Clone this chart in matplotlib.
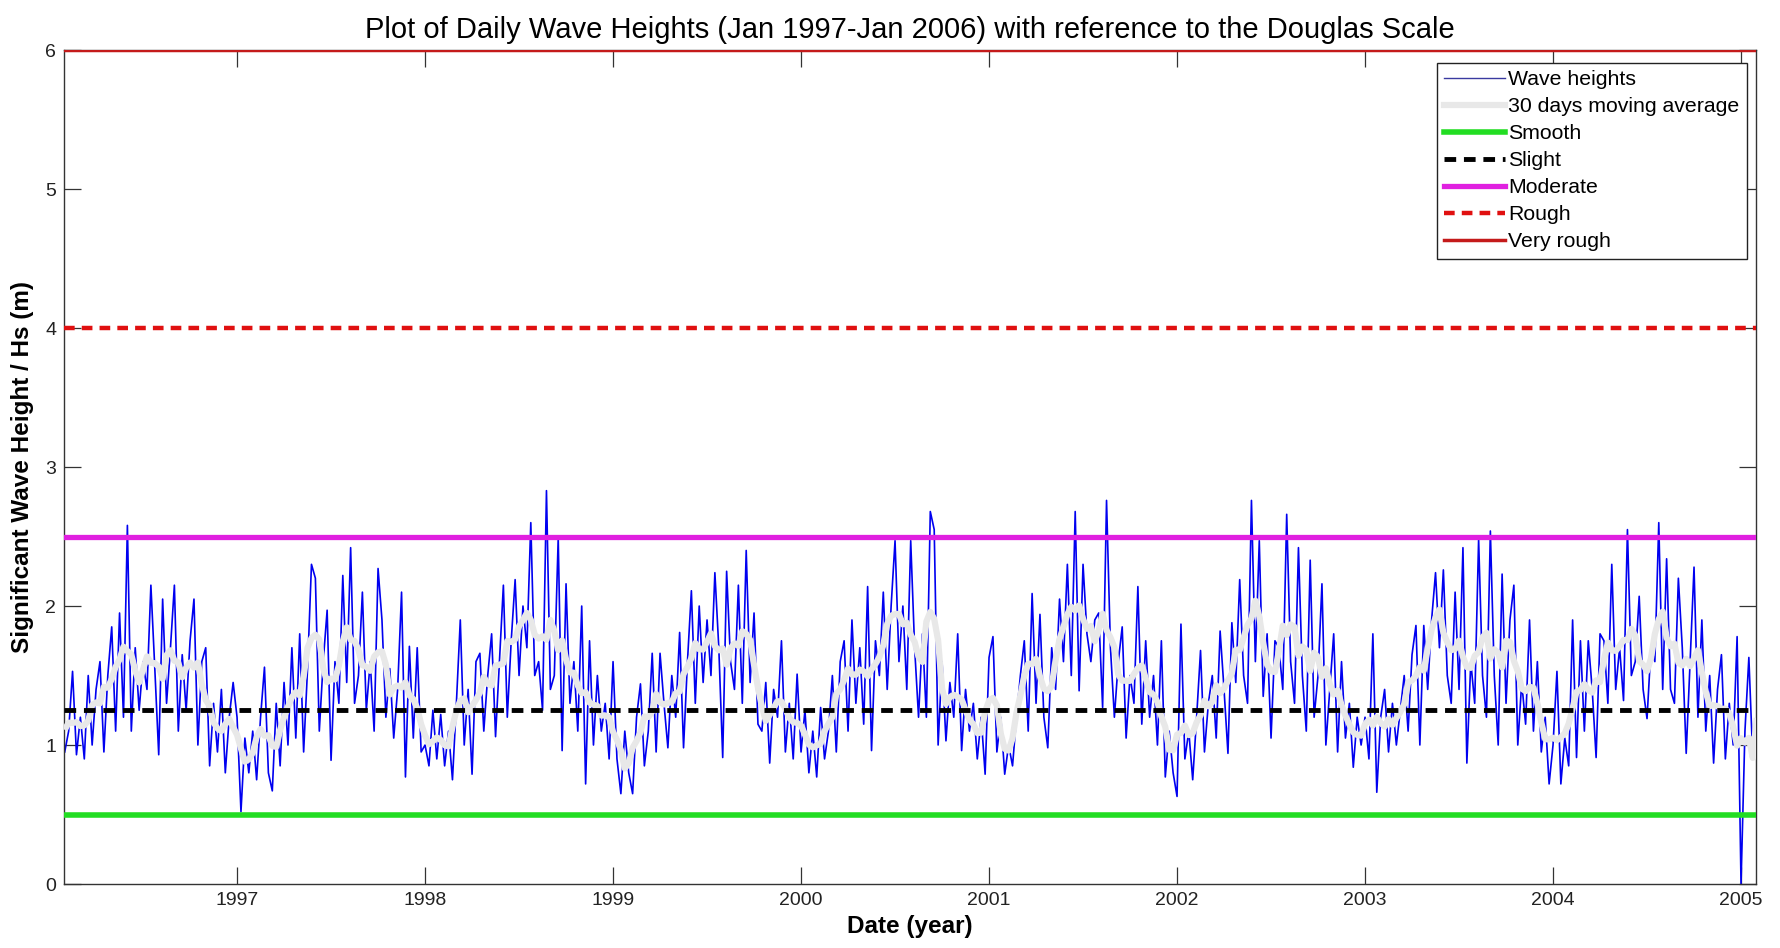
import numpy as np
import pandas as pd
import matplotlib
matplotlib.use("Agg")
import matplotlib.pyplot as plt
from matplotlib.lines import Line2D

plt.rcParams['font.family'] = ['Liberation Sans', 'DejaVu Sans']

# Daily significant wave heights (m), sampled weekly-ish (48 per year)
hs_1996 = [0.95, 1.1, 1.53, 0.93, 1.2, 0.9, 1.5, 1.0, 1.4, 1.6, 0.95, 1.5, 1.85, 1.1, 1.95, 1.2,
           2.58, 1.1, 1.7, 1.25, 1.6, 1.4, 2.15, 1.55, 0.93, 2.05, 1.3, 1.7, 2.15, 1.1, 1.65, 1.25,
           1.75, 2.05, 1.0, 1.6, 1.7, 0.85, 1.3, 0.95, 1.4, 0.8, 1.2, 1.45]
hs_1997 = [1.2, 0.52, 1.05, 0.8, 1.1, 0.75, 1.2, 1.56, 0.8, 0.67, 1.3, 0.85, 1.45, 1.0, 1.7, 1.05,
           1.8, 0.95, 1.55, 2.3, 2.2, 1.1, 1.6, 1.97, 0.89, 1.6, 1.3, 2.22, 1.45, 2.42, 1.3, 1.5,
           2.1, 1.25, 1.6, 1.1, 2.27, 1.9, 1.2, 1.55, 1.05, 1.4, 2.1, 0.77, 1.71, 1.05, 1.7, 0.95]
hs_1998 = [1.0, 0.85, 1.25, 0.9, 1.22, 0.85, 1.1, 0.75, 1.3, 1.9, 1.0, 1.4, 0.79, 1.6, 1.66, 1.1,
           1.5, 1.8, 1.06, 1.6, 2.15, 1.2, 1.75, 2.19, 1.5, 2.0, 1.7, 2.6, 1.5, 1.6, 1.25, 2.83,
           1.4, 1.5, 2.49, 0.96, 2.16, 1.3, 1.6, 1.1, 2.0, 0.72, 1.75, 1.0, 1.5, 1.1, 1.3, 0.9]
hs_1999 = [1.6, 0.9, 0.65, 1.1, 0.8, 0.65, 1.2, 1.44, 0.85, 1.1, 1.66, 0.95, 1.66, 1.3, 0.98, 1.5,
           1.2, 1.81, 0.98, 1.6, 2.11, 1.3, 2.0, 1.45, 1.9, 1.5, 2.24, 1.7, 0.91, 2.25, 1.6, 1.4,
           2.15, 1.3, 2.4, 1.45, 1.95, 1.15, 1.1, 1.45, 0.87, 1.4, 1.2, 1.75, 0.95, 1.3, 0.9, 1.51]
hs_2000 = [0.95, 1.25, 0.8, 1.1, 0.77, 1.27, 0.9, 1.1, 1.5, 0.95, 1.6, 1.75, 1.1, 1.9, 1.3, 1.7,
           1.15, 2.14, 0.96, 1.75, 1.5, 2.1, 1.4, 2.0, 2.47, 1.6, 2.0, 1.4, 2.47, 1.7, 1.2, 1.8,
           1.2, 2.68, 2.55, 1.0, 1.6, 1.03, 1.45, 1.2, 1.8, 0.96, 1.4, 1.1, 1.3, 0.9, 1.2, 0.79]
hs_2001 = [1.63, 1.78, 0.95, 1.2, 0.79, 1.0, 0.85, 1.2, 1.5, 1.75, 1.1, 2.09, 1.3, 1.94, 1.2, 0.98,
           1.7, 1.4, 2.05, 1.6, 2.3, 1.5, 2.68, 1.39, 2.3, 1.8, 1.6, 1.9, 1.95, 1.27, 2.76, 1.7,
           1.2, 1.6, 1.85, 1.05, 1.5, 1.3, 2.14, 1.15, 1.75, 1.2, 1.5, 1.0, 1.75, 0.77, 1.1, 0.8]
hs_2002 = [0.63, 1.87, 0.9, 1.1, 0.75, 1.2, 1.68, 0.95, 1.3, 1.5, 1.05, 1.82, 1.4, 0.94, 1.88, 1.45,
           2.19, 1.5, 1.3, 2.76, 1.6, 2.47, 1.35, 1.8, 1.05, 1.75, 1.7, 1.4, 2.66, 1.6, 1.3, 2.42,
           1.5, 1.1, 2.33, 1.2, 1.5, 2.16, 1.0, 1.4, 1.8, 0.95, 1.6, 1.05, 1.3, 0.84, 1.2, 1.0]
hs_2003 = [1.2, 0.9, 1.8, 0.66, 1.2, 1.4, 0.95, 1.3, 1.0, 1.25, 1.5, 1.1, 1.65, 1.86, 1.0, 1.86,
           1.4, 1.9, 2.24, 1.7, 2.26, 1.5, 1.3, 2.1, 1.4, 2.42, 0.87, 1.6, 1.3, 2.48, 1.5, 1.2,
           2.54, 1.5, 1.0, 2.23, 1.3, 1.9, 2.15, 1.0, 1.45, 1.15, 1.9, 1.1, 1.6, 0.95, 1.2, 0.72]
hs_2004 = [1.0, 1.53, 0.72, 1.05, 0.85, 1.9, 0.91, 1.75, 1.1, 1.75, 1.4, 0.91, 1.8, 1.75, 1.3, 2.3,
           1.4, 1.7, 1.32, 2.55, 1.5, 1.6, 2.07, 1.4, 1.19, 1.7, 1.6, 2.6, 1.4, 2.34, 1.4, 1.3,
           2.2, 1.7, 0.94, 1.6, 2.28, 1.2, 1.9, 1.1, 1.5, 0.87, 1.4, 1.65, 0.9, 1.3, 1.0, 1.78]
hs_2005 = [0.0, 1.1, 1.63, 0.9, 1.15]

years = [1996, 1997, 1998, 1999, 2000, 2001, 2002, 2003, 2004, 2005]
first_sample = [4, 0, 0, 0, 0, 0, 0, 0, 0, 0]
samples_per_year = 48

# Douglas sea-state thresholds (m)
douglas_names = ['Smooth', 'Slight', 'Moderate', 'Rough', 'Very rough']
douglas_levels = [0.5, 1.25, 2.5, 4.0, 6.0]

x_ticks = [1997, 1998, 1999, 2000, 2001, 2002, 2003, 2004, 2005]
y_ticks = [0, 1, 2, 3, 4, 5, 6]

# Assemble the time series in decimal years
series = [hs_1996, hs_1997, hs_1998, hs_1999, hs_2000, hs_2001, hs_2002, hs_2003, hs_2004, hs_2005]
t, hs = [], []
for yr, start, vals in zip(years, first_sample, series):
    for k, v in enumerate(vals):
        t.append(yr + (start + k) / samples_per_year)
        hs.append(v)
t = np.array(t)
hs = np.array(hs)

# ~30-day moving average (4-sample window, centred by a second 2-sample pass)
ma = (pd.Series(hs).rolling(4, min_periods=1).mean()
      .rolling(2, min_periods=1).mean().shift(-2))
ma = ma.fillna(pd.Series(hs).rolling(4, min_periods=1).mean()).to_numpy()

fig = plt.figure(figsize=(17.81, 9.48), dpi=100)
ax = fig.add_axes([0.0362, 0.0675, 0.9498, 0.8797])

ax.plot(t, hs, color='#0000f0', lw=1.2, zorder=2)
ax.plot(t, ma, color='#e8e8e8', lw=4.5, zorder=3, solid_capstyle='butt')

styles = [
    dict(color='#22dd22', ls='-', lw=4.0),
    dict(color='black', ls=(0, (2.4, 1.6)), lw=3.5),
    dict(color='#e020e0', ls='-', lw=3.8),
    dict(color='#e01010', ls=(0, (2.4, 1.6)), lw=3.2),
    dict(color='#c41a1a', ls='-', lw=2.5),
]
for lvl, st in zip(douglas_levels, styles):
    ax.axhline(lvl, zorder=4, **st)

ax.set_xlim(1996.082, 2005.08)
ax.set_ylim(0, 6)
ax.set_xticks(x_ticks)
ax.set_xticklabels([str(v) for v in x_ticks])
ax.set_yticks(y_ticks)
ax.tick_params(direction='in', length=12, width=0.9, top=True, right=True,
               labelsize=14, colors='#333333', labelcolor='#222222', pad=6)
for sp in ax.spines.values():
    sp.set_color('#333333')
    sp.set_linewidth(1.0)

ax.set_title('Plot of Daily Wave Heights (Jan 1997-Jan 2006) with reference to the Douglas Scale',
             fontsize=21, pad=9)
ax.set_xlabel('Date (year)', fontsize=17.5, fontweight='bold', labelpad=4)
ax.set_ylabel('Significant Wave Height / Hs (m)', fontsize=17.5, fontweight='bold', labelpad=8)

handles = [Line2D([], [], color='#3a3aa0', lw=1.0),
           Line2D([], [], color='#e8e8e8', lw=4.5)]
handles += [Line2D([], [], **st) for st in styles]
labels = ['Wave heights', '30 days moving average'] + douglas_names
leg = ax.legend(handles, labels, loc='upper right', bbox_to_anchor=(0.9945, 0.985),
                handlelength=2.85, handletextpad=0.15, labelspacing=0.38,
                borderpad=0.35, borderaxespad=0.0, fancybox=False, framealpha=1,
                edgecolor='#222222', prop={'size': 15.3})
leg.get_frame().set_linewidth(1.0)
leg.set_zorder(10)

fig.savefig('out.png', dpi=100)
